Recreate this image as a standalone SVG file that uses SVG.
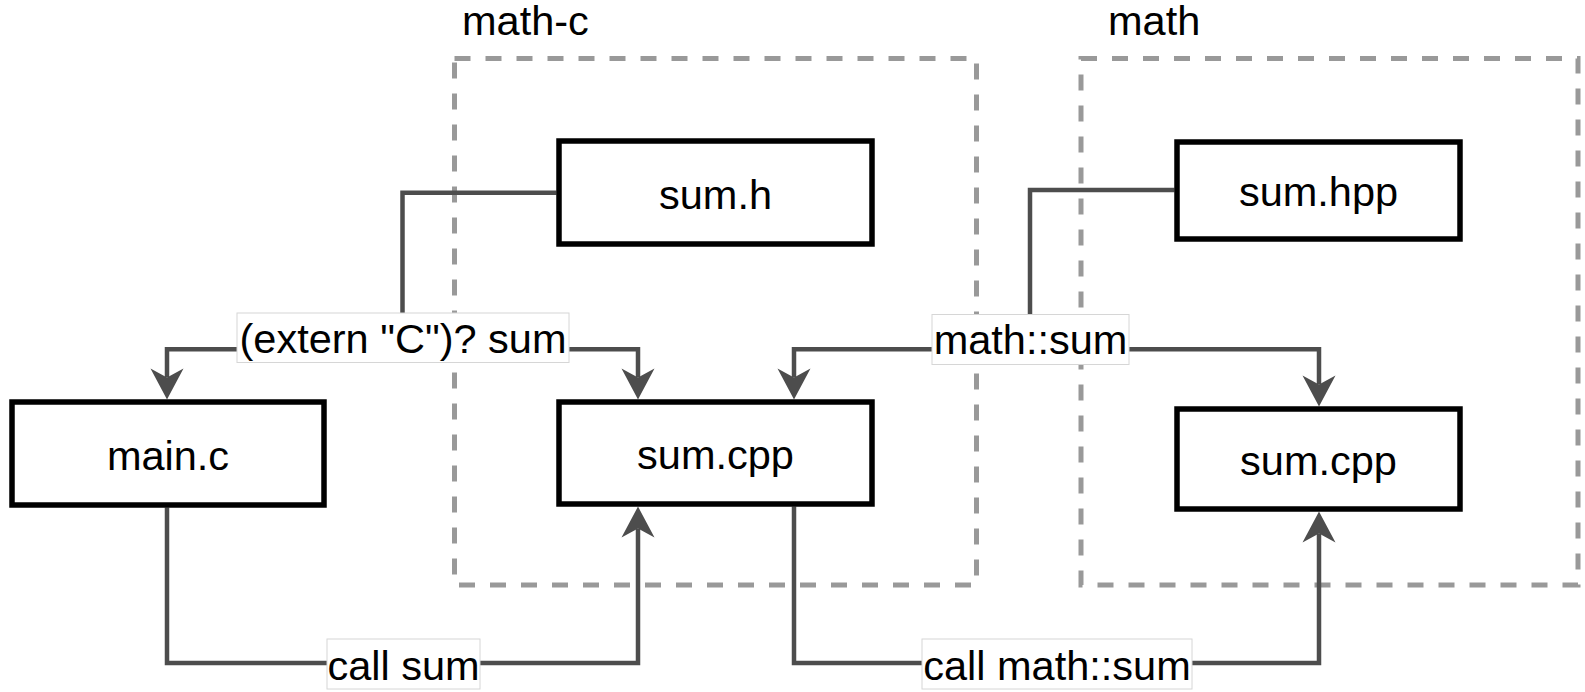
<svg xmlns="http://www.w3.org/2000/svg" width="1585" height="692" viewBox="0 0 1585 692">
  <style>
    text { font-family: "Liberation Sans", Arial, sans-serif; font-size: 41.5px; fill: #000; }
    .mid { text-anchor: middle; }
    .box { fill: #fff; stroke: #000; stroke-width: 5.5; }
    .group { fill: none; stroke: #999; stroke-width: 5; stroke-dasharray: 16 15; }
    .edge { fill: none; stroke: #4d4d4d; stroke-width: 4.5; marker-end: url(#arrow); }
    .line { fill: none; stroke: #4d4d4d; stroke-width: 4.5; }
    .lbl { fill: #fff; stroke: #d6d6d6; stroke-width: 1; }
  </style>
  <defs>
    <!-- classic arrowhead; the path ends at the notch, the tip sits 22px further on -->
    <marker id="arrow" markerUnits="userSpaceOnUse" viewBox="-2 -19 35 38" markerWidth="35" markerHeight="38" refX="9" refY="0" orient="auto">
      <path d="M0,-16.5 L31,0 L0,16.5 L9,0 Z" fill="#4d4d4d"/>
    </marker>
  </defs>

  <rect width="1585" height="692" fill="#fff"/>

  <!-- package containers -->
  <g id="math-c">
    <rect class="group" x="454.5" y="58.5" width="522" height="526.5"/>
    <text x="462" y="35">math-c</text>
  </g>
  <g id="math">
    <rect class="group" x="1081" y="58.5" width="497" height="526.5"/>
    <text x="1108" y="35">math</text>
  </g>

  <!-- connectors -->
  <g id="connectors">
    <!-- sum.h declares sum for main.c and sum.cpp -->
    <path class="line" d="M556.5,192.7 H402.5 V349.3"/>
    <path class="edge" d="M402.5,349.3 H167 V377.5"/>
    <path class="edge" d="M402.5,349.3 H638 V377.5"/>
    <!-- sum.hpp declares math::sum for both sum.cpp files -->
    <path class="line" d="M1174.5,190 H1030 V349.3"/>
    <path class="edge" d="M1030,349.3 H794 V377.5"/>
    <path class="edge" d="M1030,349.3 H1319 V384.5"/>
    <!-- calls -->
    <path class="edge" d="M167,507.5 V663 H638 V528.5"/>
    <path class="edge" d="M794,506.5 V663 H1319 V533.5"/>

    <g id="label-extern">
      <rect class="lbl" x="237" y="313" width="332" height="49.5"/>
      <text class="mid" x="403" y="352.5">(extern "C")? sum</text>
    </g>
    <g id="label-math-sum">
      <rect class="lbl" x="932" y="314.5" width="197" height="50"/>
      <text class="mid" x="1030.5" y="354">math::sum</text>
    </g>
    <g id="label-call-sum">
      <rect class="lbl" x="327" y="639" width="153" height="50"/>
      <text class="mid" x="403.5" y="679.5">call sum</text>
    </g>
    <g id="label-call-math-sum">
      <rect class="lbl" x="922" y="639" width="270" height="50"/>
      <text class="mid" x="1057" y="679.5">call math::sum</text>
    </g>
  </g>

  <!-- nodes -->
  <g id="sum-h">
    <rect class="box" x="559" y="141" width="313" height="103"/>
    <text class="mid" x="715.5" y="208.5">sum.h</text>
  </g>
  <g id="main-c">
    <rect class="box" x="12" y="402" width="312" height="103"/>
    <text class="mid" x="168" y="469.5">main.c</text>
  </g>
  <g id="sum-cpp-c">
    <rect class="box" x="559" y="402" width="313" height="102"/>
    <text class="mid" x="715.5" y="469">sum.cpp</text>
  </g>
  <g id="sum-hpp">
    <rect class="box" x="1177" y="142" width="283" height="97"/>
    <text class="mid" x="1318.5" y="205.5">sum.hpp</text>
  </g>
  <g id="sum-cpp-math">
    <rect class="box" x="1177" y="409" width="283" height="100"/>
    <text class="mid" x="1318.5" y="475">sum.cpp</text>
  </g>
</svg>
